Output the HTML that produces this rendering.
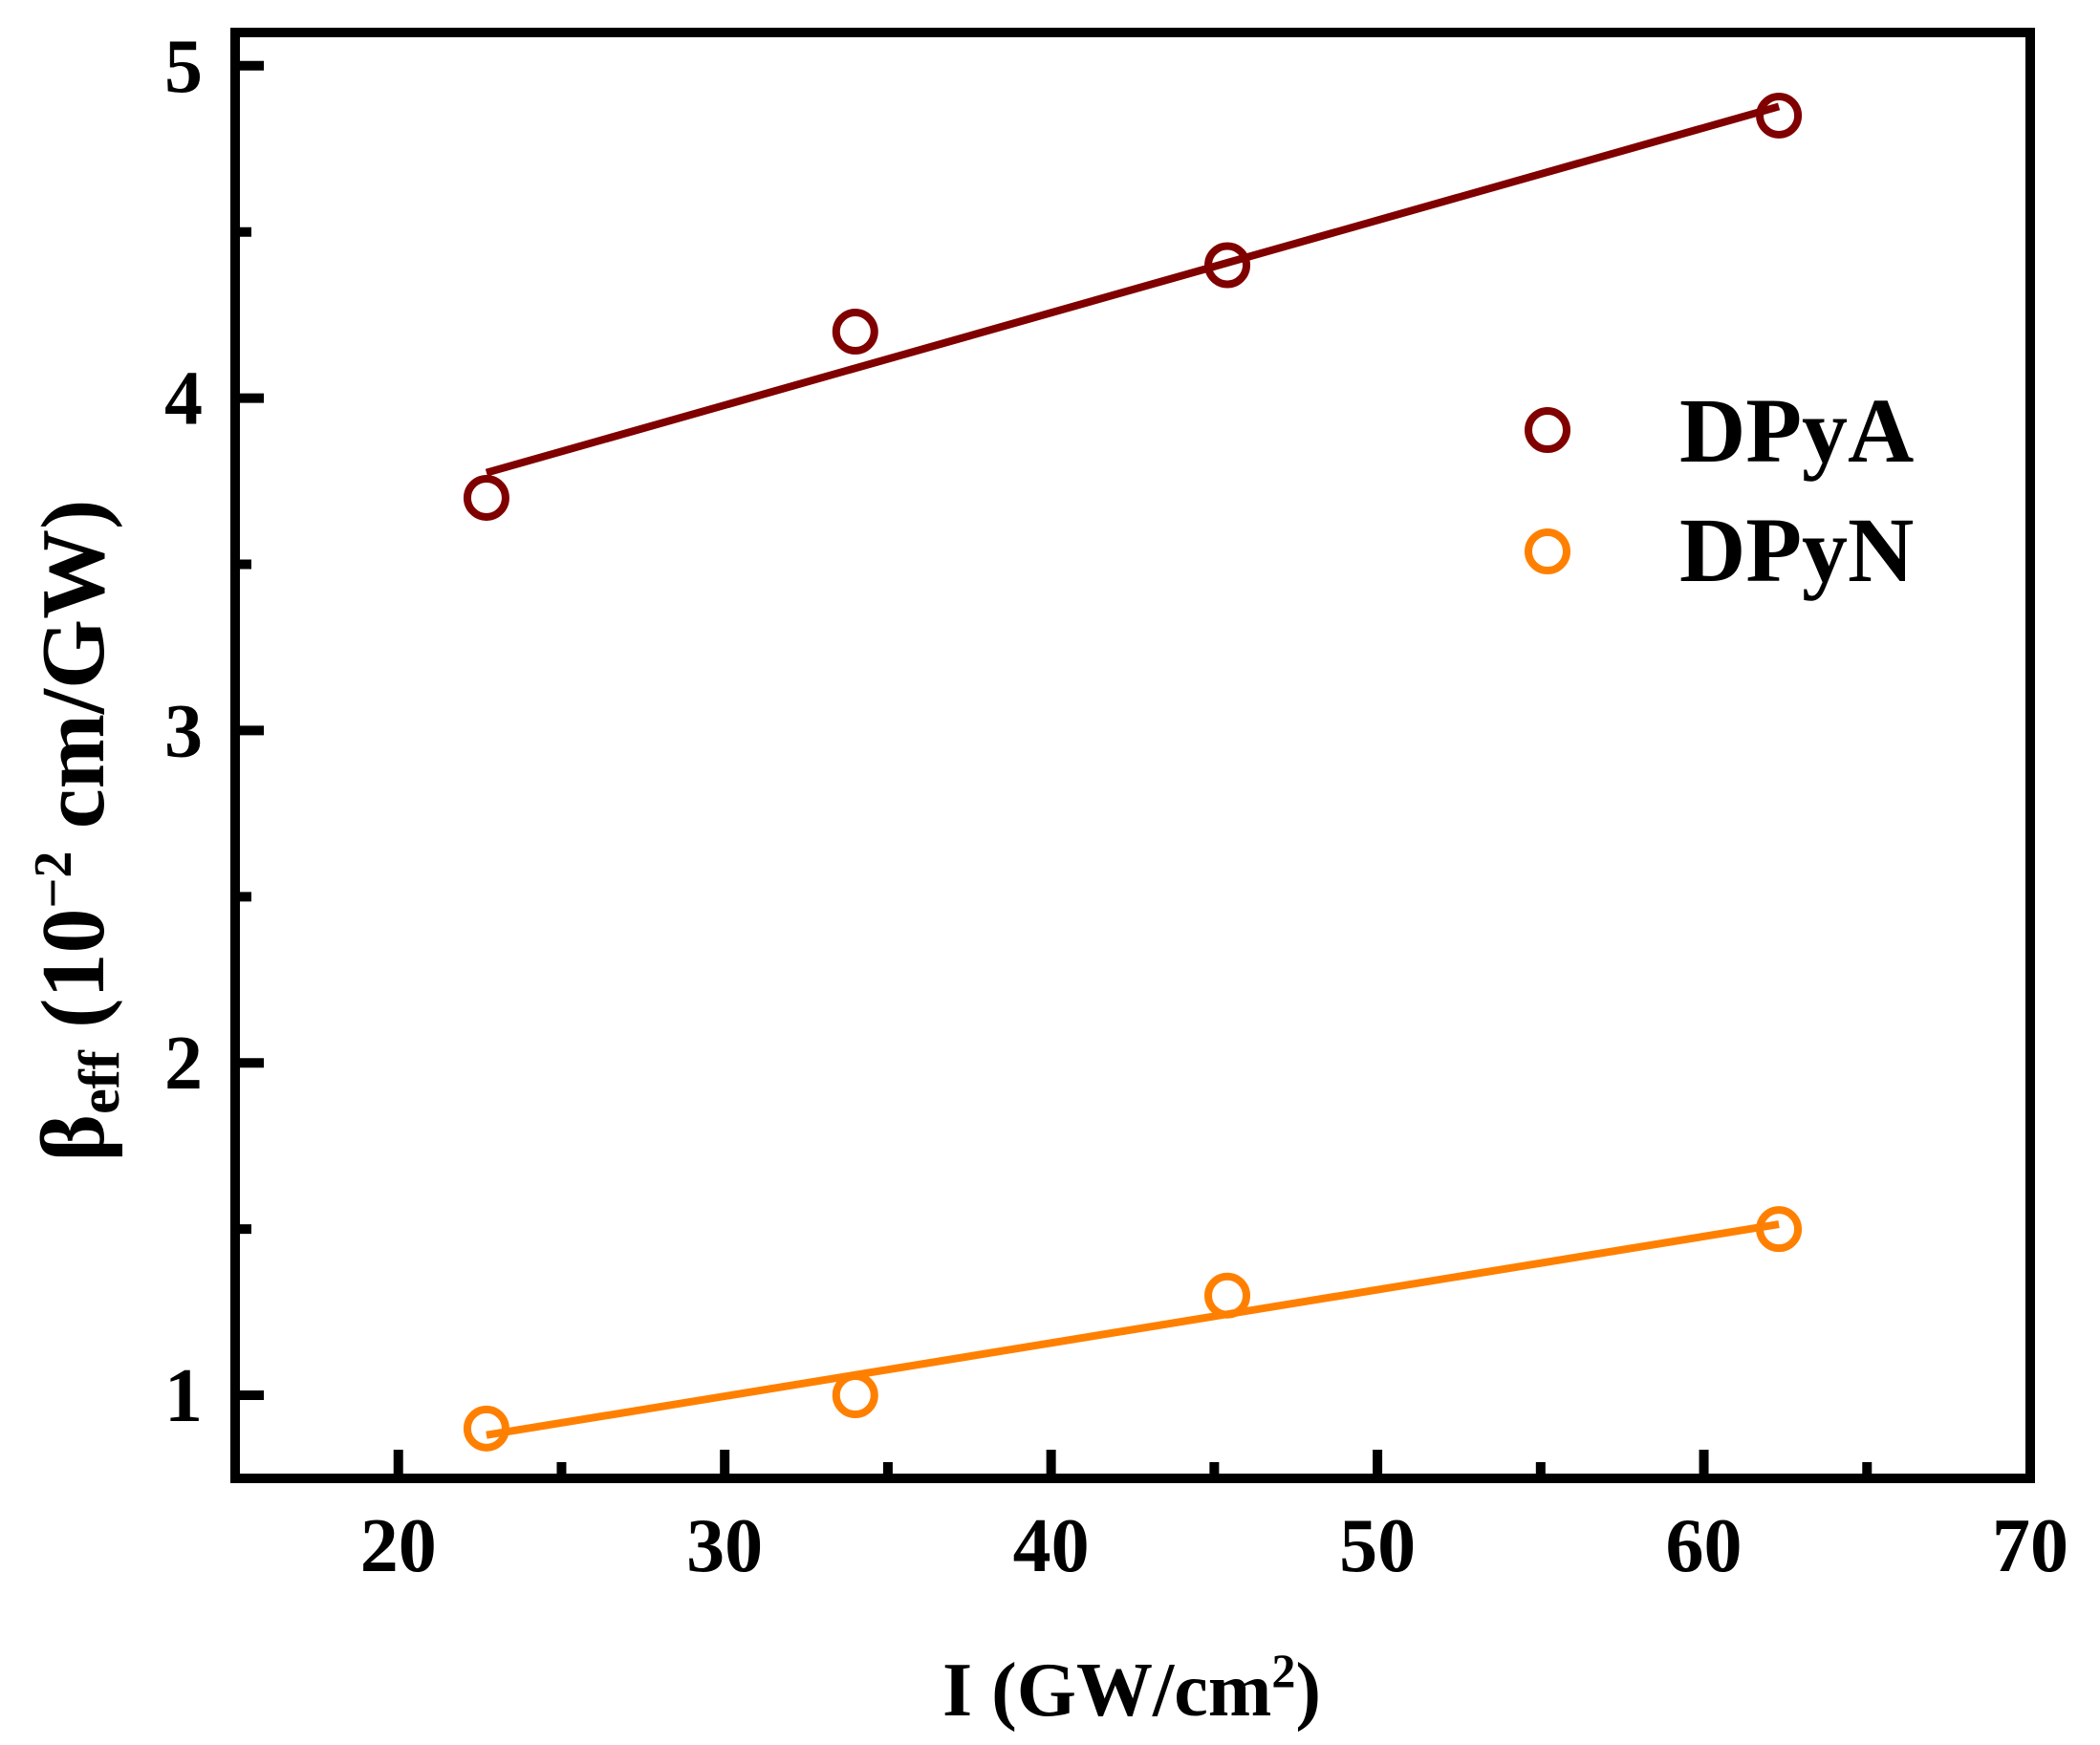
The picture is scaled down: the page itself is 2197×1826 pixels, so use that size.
<!DOCTYPE html>
<html><head><meta charset="utf-8"><style>
html,body{margin:0;padding:0;background:#fff;}
svg{display:block;font-family:"Liberation Serif",serif;font-weight:bold;}
</style></head><body>
<svg id="chart" width="2197" height="1826" viewBox="0 0 2197 1826" xmlns="http://www.w3.org/2000/svg">
<rect x="0" y="0" width="2197" height="1826" fill="#fff"/>
<g id="marks"></g>
<g id="axes"></g>
<text x="1184" y="1795" font-size="80" text-anchor="middle">I (GW/cm<tspan dy="-30" font-size="50">2</tspan><tspan dy="30">)</tspan></text>
<text transform="translate(108,869) rotate(-90)" font-size="94" text-anchor="middle">β<tspan dy="16" font-size="60">eff</tspan><tspan dy="-16"> (10</tspan><tspan dy="-34" font-size="56">−2</tspan><tspan dy="34"> cm/GW)</tspan></text>
<g>
<circle cx="1619" cy="450" r="20" fill="none" stroke="#800000" stroke-width="8"/>
<text x="1757" y="483" font-size="96">DPyA</text>
<circle cx="1619" cy="577" r="20" fill="none" stroke="#ff8000" stroke-width="8"/>
<text x="1757" y="608" font-size="96">DPyN</text>
</g>
</svg>
<script>
const xValues = [22.7, 34.0, 45.4, 62.3];
const dpyaValues = [3.70, 4.20, 4.40, 4.85];
const dpynValues = [0.90, 1.00, 1.30, 1.50];
const xTicks = [20, 30, 40, 50, 60, 70];
const yTicks = [1, 2, 3, 4, 5];

const NS = "http://www.w3.org/2000/svg";
const L = 246, R = 2124, T = 34, B = 1547;
const xMin = 15, xMax = 70, yMin = 0.75, yMax = 5.1;
function sx(v){ return L + (v - xMin) / (xMax - xMin) * (R - L); }
function sy(v){ return B - (v - yMin) / (yMax - yMin) * (B - T); }
function mk(tag, attrs, parent){
  const e = document.createElementNS(NS, tag);
  for (const k in attrs) e.setAttribute(k, attrs[k]);
  parent.appendChild(e);
  return e;
}
const marks = document.getElementById('marks');
const axes = document.getElementById('axes');

function fit(xs, ys){
  const n = xs.length;
  const mx = xs.reduce((a,b)=>a+b,0)/n, my = ys.reduce((a,b)=>a+b,0)/n;
  let sxy = 0, sxx = 0;
  for (let i=0;i<n;i++){ sxy += (xs[i]-mx)*(ys[i]-my); sxx += (xs[i]-mx)*(xs[i]-mx); }
  const m = sxy/sxx; return [m, my - m*mx];
}
function series(vals, color, name){
  const [m, b] = fit(xValues, vals);
  const x0 = Math.min(...xValues), x1 = Math.max(...xValues);
  const ln = mk('line', {x1: sx(x0), y1: sy(m*x0+b), x2: sx(x1), y2: sy(m*x1+b), stroke: color, 'stroke-width': 8}, marks);
  
  
  vals.forEach((v, i) => {
    const c = mk('circle', {cx: sx(xValues[i]), cy: sy(v), r: 20, fill: 'none', stroke: color, 'stroke-width': 8}, marks);
    
    
  });
}
series(dpyaValues, '#800000', 'dpya');
series(dpynValues, '#ff8000', 'dpyn');

const frame = mk('rect', {x: L, y: T, width: R-L, height: B-T, fill: 'none', stroke: '#000', 'stroke-width': 10}, axes);



xTicks.forEach(v => {
  const t = mk('line', {x1: sx(v), y1: B, x2: sx(v), y2: B-30, stroke: '#000', 'stroke-width': 10}, axes);
  
  
  const lab = mk('text', {x: sx(v), y: 1644, 'font-size': 80, 'text-anchor': 'middle'}, axes);
  lab.textContent = v;
  
  
  if (v + 5 < xMax){
    const mt = mk('line', {x1: sx(v+5), y1: B, x2: sx(v+5), y2: B-17, stroke: '#000', 'stroke-width': 10}, axes);
    
    
  }
});
yTicks.forEach(v => {
  const t = mk('line', {x1: L, y1: sy(v), x2: L+30, y2: sy(v), stroke: '#000', 'stroke-width': 10}, axes);
  
  
  const lab = mk('text', {x: 212, y: sy(v)+27, 'font-size': 80, 'text-anchor': 'end'}, axes);
  lab.textContent = v;
  
  
  if (v - 0.5 > yMin){
    const mt = mk('line', {x1: L, y1: sy(v-0.5), x2: L+17, y2: sy(v-0.5), stroke: '#000', 'stroke-width': 10}, axes);
    
    
  }
});
</script>
</body></html>
